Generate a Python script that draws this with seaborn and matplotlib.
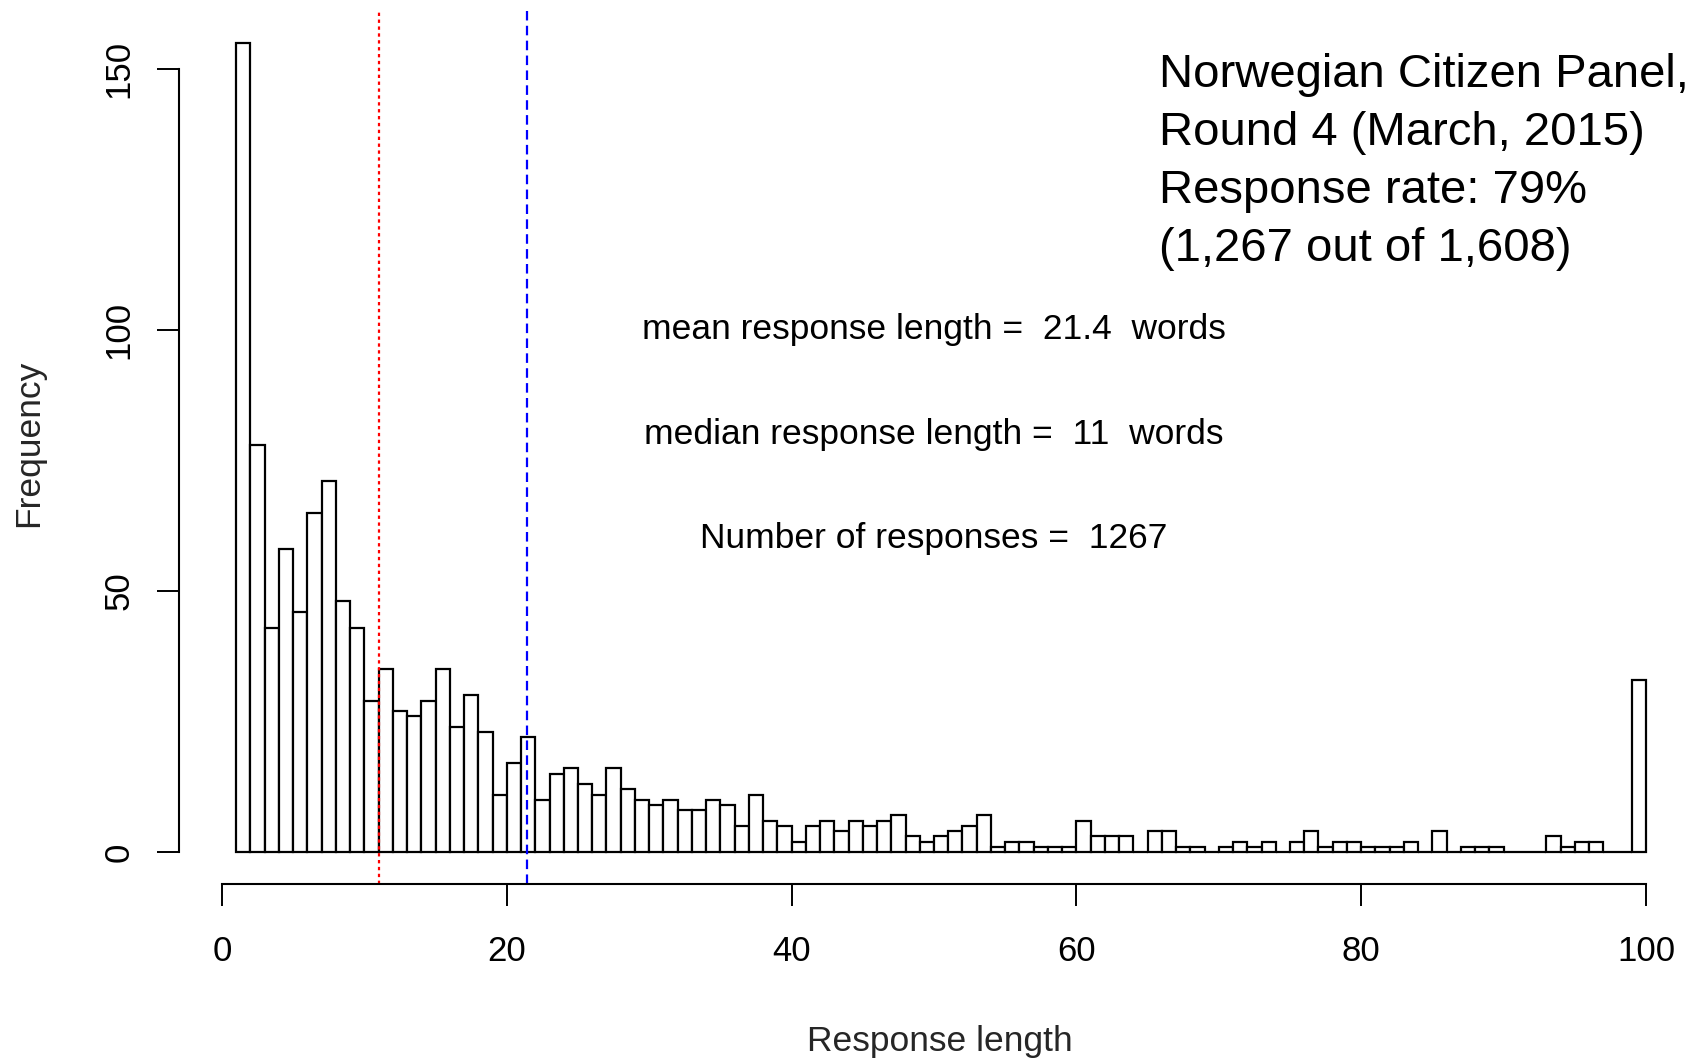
import matplotlib
matplotlib.use("Agg")
import matplotlib.pyplot as plt
import seaborn as sns
import pandas as pd

# response counts per response length bin (1..99, width 1)
bin_left = list(range(1, 100))
bin_edges = list(range(1, 101))
counts = [155, 78, 43, 58, 46, 65, 71, 48, 43, 29,
          35, 27, 26, 29, 35, 24, 30, 23, 11, 17,
          22, 10, 15, 16, 13, 11, 16, 12, 10, 9,
          10, 8, 8, 10, 9, 5, 11, 6, 5, 2,
          5, 6, 4, 6, 5, 6, 7, 3, 2, 3,
          4, 5, 7, 1, 2, 2, 1, 1, 1, 6,
          3, 3, 3, 0, 4, 4, 1, 1, 0, 1,
          2, 1, 2, 0, 2, 4, 1, 2, 2, 1,
          1, 1, 2, 0, 4, 0, 1, 1, 1, 0,
          0, 0, 3, 1, 2, 2, 0, 0, 33]

mean_len = 21.4
median_len = 11

stats_text = ["mean response length =  21.4  words",
              "median response length =  11  words",
              "Number of responses =  1267"]
stats_y = [100, 80, 60]

panel_lines = ["Norwegian Citizen Panel,",
               "Round 4 (March, 2015)",
               "Response rate: 79%",
               "(1,267 out of 1,608)"]

x_ticks = [0, 20, 40, 60, 80, 100]
y_ticks = [0, 50, 100, 150]

df = pd.DataFrame({"length": [b + 0.5 for b in bin_left], "n": counts})

sns.set_style("ticks")
plt.rcParams["font.family"] = ["Liberation Sans", "DejaVu Sans"]

W, H = 1694, 1061
fig = plt.figure(figsize=(W / 100, H / 100), dpi=100)
ax = fig.add_axes([179 / W, (H - 884) / H, (1702.4 - 179) / W, (884 - 10.5) / H])

sns.histplot(data=df, x="length", weights="n", bins=bin_edges, ax=ax,
             color="white", edgecolor="black", linewidth=1.6, alpha=1)

ax.axvline(median_len, color="#FF0000", linestyle=(0, (1.5, 1.6)), linewidth=1.6)
ax.axvline(mean_len, color="#0000FF", linestyle=(0, (4.3, 2.4)), linewidth=1.6)

ax.set_xlim(-3.02, 103.96)
ax.set_ylim(-6.13, 161.2)

for s in ["top", "right"]:
    ax.spines[s].set_visible(False)
ax.spines["left"].set_bounds(0, 150)
ax.spines["bottom"].set_bounds(0, 100)
for s in ["left", "bottom"]:
    ax.spines[s].set_linewidth(1.5)
    ax.spines[s].set_color("black")

ax.set_xticks(x_ticks)
ax.set_yticks(y_ticks)
ax.tick_params(axis="both", direction="out", length=15.5, width=1.4,
               color="black", labelsize=25, labelcolor="black",
               bottom=True, left=True)
ax.tick_params(axis="x", pad=21)
ax.tick_params(axis="y", labelrotation=90, pad=16)
for lab in ax.get_yticklabels():
    lab.set_va("center")
ax.set_xlabel("")
ax.set_ylabel("")

for txt, yv in zip(stats_text, stats_y):
    ax.text(50, yv, txt, ha="center", va="center", fontsize=25.5, color="black")

fig.text(940 / W, 1 - 1042 / H, "Response length", ha="center", va="center", fontsize=25.5)
fig.text(29 / W, 1 - 443 / H, "Frequency", ha="center", va="center",
         rotation=90, fontsize=25.5)

for i, line in enumerate(panel_lines):
    fig.text(1159 / W, 1 - (87 + 58 * i) / H, line, ha="left", va="baseline",
             fontsize=34, color="black")

fig.savefig("out.png", dpi=100, facecolor="white")
